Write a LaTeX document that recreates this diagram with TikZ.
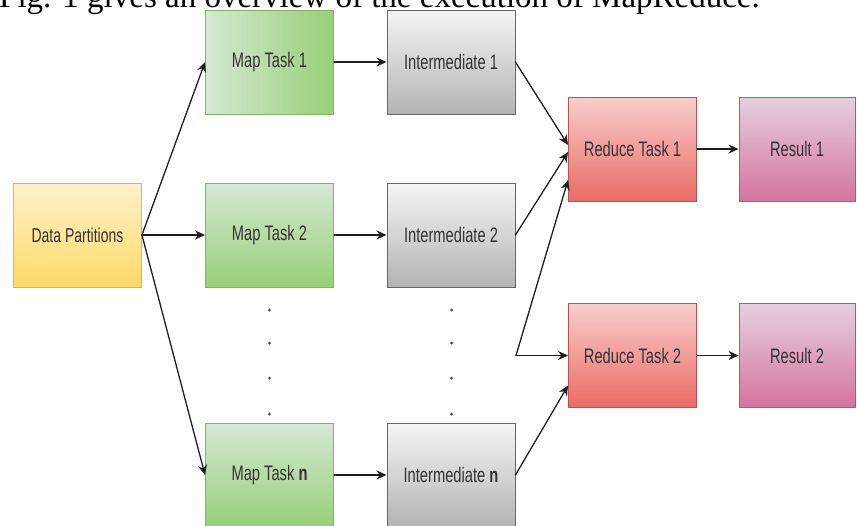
\documentclass[tikz,border=0pt]{standalone}
\usepackage{fontspec}
\setmainfont{Liberation Serif}
\setsansfont{Liberation Sans}
\usepackage{graphicx}
\usetikzlibrary{arrows.meta}
\usepackage{xcolor}

\definecolor{yelL}{HTML}{FFF2CC}
\definecolor{yelD}{HTML}{FFD966}
\definecolor{yelB}{HTML}{D6B656}
\definecolor{grnL}{HTML}{D5E8D4}
\definecolor{grnD}{HTML}{97D077}
\definecolor{grnB}{HTML}{82B366}
\definecolor{gryL}{HTML}{F5F5F5}
\definecolor{gryD}{HTML}{B3B3B3}
\definecolor{gryB}{HTML}{666666}
\definecolor{redL}{HTML}{F8CECC}
\definecolor{redD}{HTML}{EA6B66}
\definecolor{redB}{HTML}{B85450}
\definecolor{pnkL}{HTML}{E6D0DE}
\definecolor{pnkD}{HTML}{D5739D}
\definecolor{pnkB}{HTML}{996185}

\newcommand{\boxlabel}[1]{\scalebox{0.7}[1]{#1}}

\begin{document}
\begin{tikzpicture}[x=1pt,y=-1pt,>={Stealth[length=10pt,width=9pt]},line cap=round,
  box/.style={rectangle,inner sep=0pt,minimum width=128pt,minimum height=104pt,
    line width=0.9pt,font=\sffamily\fontsize{21}{24}\selectfont,text=black!80},
  datbox/.style={box,draw=yelB,top color=yelL,bottom color=yelD},
  mapbox/.style={box,draw=grnB,top color=grnL,bottom color=grnD},
  midbox/.style={box,draw=gryB,top color=gryL,bottom color=gryD},
  redbox/.style={box,draw=redB,top color=redL,bottom color=redD},
  resbox/.style={box,minimum width=116pt,draw=pnkB,top color=pnkL,bottom color=pnkD},
  arr/.style={->,line width=1.3pt,draw=black!88}]
\useasboundingbox (0,0) rectangle (857,525);
% caption line, cut at the top
\node[anchor=base west,inner sep=0pt,font=\fontsize{33}{36}\selectfont] (caption) at (-1,7) {Fig. 1 gives an overview of the execution of MapReduce.};
% boxes
\node[datbox,font=\sffamily\fontsize{20}{22}\selectfont] (data) at (77.5,235) {\boxlabel{Data Partitions}};
\node[box,draw=grnB,left color=grnL,right color=grnD] (map1) at (269.5,62) {\boxlabel{Map Task 1}};
\node[mapbox] (map2) at (269.5,235) {\boxlabel{Map Task 2}};
\node[mapbox] (mapn) at (269.5,475) {\boxlabel{Map Task \textbf{n}}};
\node[midbox] (mid1) at (451,62) {\boxlabel{Intermediate 1}};
\node[midbox] (mid2) at (451,235) {\boxlabel{Intermediate 2}};
\node[midbox] (midn) at (451,475) {\boxlabel{Intermediate \textbf{n}}};
\node[redbox] (red1) at (632.5,149) {\boxlabel{Reduce Task 1}};
\node[redbox] (red2) at (632.5,355.5) {\boxlabel{Reduce Task 2}};
\node[resbox] (res1) at (797,149) {\boxlabel{Result 1}};
\node[resbox] (res2) at (797,355.5) {\boxlabel{Result 2}};
% dots between the rows
\fill[black!75] (269.5,310) circle (1.5);
\fill[black!75] (269.5,343) circle (1.5);
\fill[black!75] (269.5,378) circle (1.5);
\fill[black!75] (269.5,414) circle (1.5);
\fill[black!75] (451.5,310) circle (1.5);
\fill[black!75] (451.5,343) circle (1.5);
\fill[black!75] (451.5,378) circle (1.5);
\fill[black!75] (451.5,414) circle (1.5);
% connectors
\draw[arr] (data.east) -- (map1.west);
\draw[arr] (data.east) -- (map2.west);
\draw[arr] (data.east) -- (mapn.west);
\draw[arr] (map1.east) -- (mid1.west);
\draw[arr] (map2.east) -- (mid2.west);
\draw[arr] (mapn.east) -- (midn.west);
\draw[arr] (mid1.east) -- ([yshift=4pt]red1.west);
\draw[arr] (mid2.east) -- ([yshift=-3pt]red1.west);
\coordinate (split) at (516,355.5);
\draw[arr] (split) -- ([yshift=-31pt]red1.west);
\draw[arr] (split) -- (red2.west);
\draw[arr] (midn.east) -- ([yshift=-30pt]red2.west);
\draw[arr] (red1.east) -- (res1.west);
\draw[arr] (red2.east) -- (res2.west);
\end{tikzpicture}
\end{document}
